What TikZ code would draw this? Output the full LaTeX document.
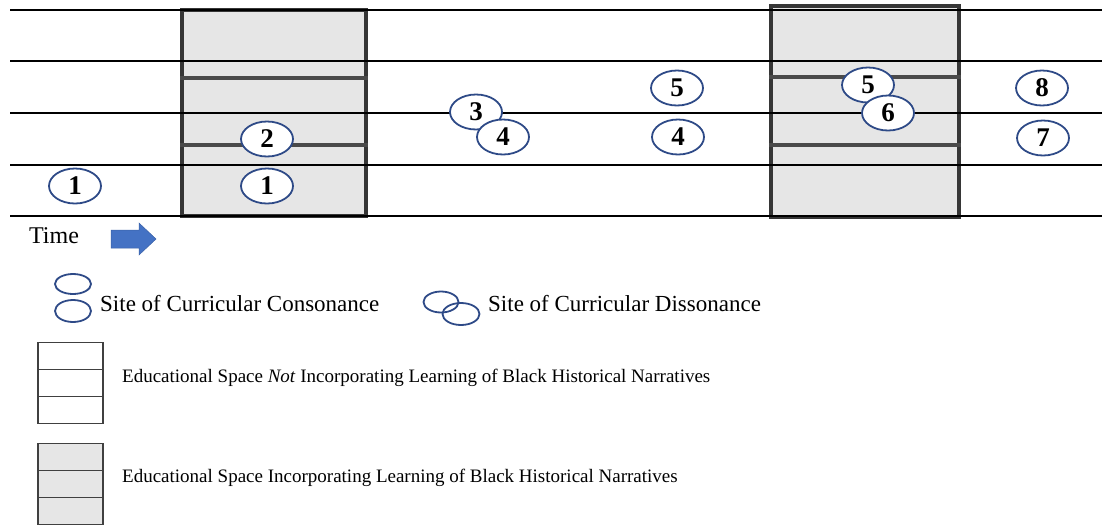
\documentclass[tikz,border=0pt]{standalone}
\usepackage{fontspec}
\setmainfont{Liberation Serif}
\usetikzlibrary{shapes.geometric}
\definecolor{ringblue}{HTML}{2E4A87}
\definecolor{arrowblue}{HTML}{4472C4}
\definecolor{boxgray}{HTML}{E6E6E6}
\definecolor{boxedge}{HTML}{363636}
\definecolor{bandgray}{HTML}{4A4A4A}
\tikzset{
  staff/.style={line width=1.4pt, black},
  spacebox/.style={fill=boxgray, draw=boxedge, line width=3.2pt},
  band/.style={draw=bandgray, line width=3.2pt},
  site/.style={ellipse, draw=ringblue, line width=1.8pt, fill=white, inner sep=0pt,
    minimum width=52pt, minimum height=35pt,
    font=\fontsize{27}{27}\selectfont\bfseries},
  legring/.style={ellipse, draw=ringblue, line width=1.8pt, inner sep=0pt},
  legbox/.style={draw=black!75, line width=1.3pt, minimum width=65pt, minimum height=27pt, inner sep=0pt},
  legtext/.style={anchor=west, inner sep=0pt},
  timearrow/.style={fill=arrowblue, draw=arrowblue!85!black, line width=0.5pt},
}
\begin{document}
\begin{tikzpicture}[x=1pt,y=-1pt]
\useasboundingbox (0,0) rectangle (1102,525);
% gray educational spaces
\node[spacebox, minimum width=184pt, minimum height=206pt, inner sep=0pt] (boxA) at (274,113) {};
\node[spacebox, minimum width=188pt, minimum height=211pt, inner sep=0pt] (boxB) at (865,111.5) {};
\draw[band] (boxA.west |- 0,78) coordinate (a1) -- (boxA.east |- 0,78) coordinate (a2);
\draw[band] (boxA.west |- 0,145) coordinate (a3) -- (boxA.east |- 0,145) coordinate (a4);
\draw[band] (boxB.west |- 0,77) coordinate (b1) -- (boxB.east |- 0,77) coordinate (b2);
\draw[band] (boxB.west |- 0,145) coordinate (b3) -- (boxB.east |- 0,145) coordinate (b4);
% staff lines
\foreach \yy/\nm in {10/s1,61/s2,113/s3,165/s4,216/s5}{
  \coordinate (\nm L) at (10,\yy);
  \coordinate (\nm R) at (1102,\yy);
  \draw[staff] (\nm L) -- (\nm R);
}
% sites
\node[site] (c1a) at (75,186) {1};
\node[site] (c1b) at (267,186) {1};
\node[site] (c2) at (267,139) {2};
\node[site] (c3) at (476,112) {3};
\node[site] (c4a) at (503,137) {4};
\node[site] (c5a) at (677,88) {5};
\node[site] (c4b) at (678,137) {4};
\node[site] (c5b) at (868,85) {5};
\node[site] (c6) at (888,113) {6};
\node[site] (c8) at (1042,88) {8};
\node[site] (c7) at (1043,138) {7};
% time
\node[font=\fontsize{24}{24}\selectfont, inner sep=0pt] (time) at (54,236) {Time};
\coordinate (arrtail) at (111,239);
\coordinate (arrtip) at (156,239);
\draw[timearrow] (arrtail) ++(0,-9) -- ++(28,0) -- ++(0,-7) -- (arrtip) -- ++(-17,16) -- ++(0,-7) -- ++(-28,0) -- cycle;
% legend: consonance
\node[legring, minimum width=36pt, minimum height=20pt] (lc1) at (73,284) {};
\node[legring, minimum width=36pt, minimum height=22pt] (lc2) at (73,311) {};
\node[legtext, font=\fontsize{23}{23}\selectfont] (tcon) at (100,304) {Site of Curricular Consonance};
% legend: dissonance
\node[legring, minimum width=35pt, minimum height=21pt] (ld1) at (441,302) {};
\node[legring, minimum width=37pt, minimum height=22pt] (ld2) at (461,314) {};
\node[legtext, font=\fontsize{23}{23}\selectfont] (tdis) at (488,304) {Site of Curricular Dissonance};
% legend: spaces
\foreach \yy/\nm in {356/w1,383/w2,410/w3}{
  \node[legbox, fill=white] (\nm) at (70.5,\yy) {};
}
\foreach \yy/\nm in {457/g1,484/g2,511/g3}{
  \node[legbox, fill=boxgray] (\nm) at (70.5,\yy) {};
}
\node[legtext, font=\fontsize{19}{19}\selectfont] (tnot) at (122,378) {Educational Space \textit{Not} Incorporating Learning of Black Historical Narratives};
\node[legtext, font=\fontsize{19}{19}\selectfont] (tinc) at (122,478) {Educational Space Incorporating Learning of Black Historical Narratives};
\end{tikzpicture}
\end{document}
